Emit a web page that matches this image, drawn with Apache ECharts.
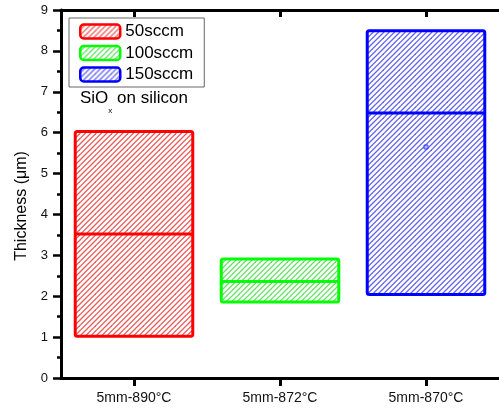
<!DOCTYPE html>
<html>
<head>
<meta charset="utf-8">
<script src="https://cdn.jsdelivr.net/npm/echarts@6/dist/echarts.min.js"></script>
<style>
  html, body { margin: 0; padding: 0; background: #fff; }
  #chart { width: 499px; height: 408px; }
</style>
</head>
<body>
<div id="chart"></div>
<script>
// Sample conditions along the x axis
const categories = ['5mm-890°C', '5mm-872°C', '5mm-870°C'];
// Flow-rate groups (one box per condition)
const seriesNames = ['50sccm', '100sccm', '150sccm'];
const seriesColors = ['#ff0000', '#00ff00', '#0000ff'];
// Thickness range per box (µm): bottom, median, top
const lowValues = [1.02, 1.86, 2.04];
const medianValues = [3.52, 2.36, 6.48];
const highValues = [6.03, 2.91, 8.49];
// Mean thickness marker of the 150sccm sample
const meanValue150 = 5.65;
// Y axis ticks
const yMin = 0, yMax = 9, yStep = 1;

const FONT = '"Liberation Sans", Arial, sans-serif';

// Diagonal hatch pattern ("/" lines) in a given colour
function hatch(color) {
  const size = 16, n = 3;
  const c = document.createElement('canvas');
  c.width = size; c.height = size;
  const g = c.getContext('2d');
  g.strokeStyle = color;
  g.lineWidth = 1.3;
  const step = size / n;
  for (let k = -1; k <= 2 * n + 1; k++) {
    const s = k * step;
    g.beginPath();
    g.moveTo(s + 1, -1);
    g.lineTo(-1, s + 1);
    g.stroke();
  }
  return { image: c, repeat: 'repeat' };
}
const hatchColors = ['rgba(230,50,50,0.8)', 'rgba(60,220,60,0.8)', 'rgba(60,60,230,0.8)'];
const patterns = hatchColors.map(hatch);

function makeRender(idx) {
  return function (params, api) {
    const x = api.value(0);
    const pLo = api.coord([x, api.value(1)]);
    const pMed = api.coord([x, api.value(2)]);
    const pHi = api.coord([x, api.value(3)]);
    const w = api.size([1, 0])[0] * 0.805;
    const left = pLo[0] - w / 2;
    return {
      type: 'group',
      children: [
        {
          type: 'rect',
          shape: { x: left, y: pHi[1], width: w, height: pLo[1] - pHi[1], r: 2 },
          style: { fill: patterns[idx], stroke: seriesColors[idx], lineWidth: 3 }
        },
        {
          type: 'line',
          shape: { x1: left, y1: pMed[1], x2: left + w, y2: pMed[1] },
          style: { stroke: seriesColors[idx], lineWidth: 3 }
        }
      ]
    };
  };
}

const boxSeries = seriesNames.map((name, i) => ({
  name: name,
  type: 'custom',
  renderItem: makeRender(i),
  itemStyle: { color: seriesColors[i] },
  encode: { x: 0, y: [1, 2, 3] },
  data: [[i, lowValues[i], medianValues[i], highValues[i]]],
  z: 2
}));

const chart = echarts.init(document.getElementById('chart'), null, { renderer: 'canvas' });
chart.setOption({
  animation: false,
  backgroundColor: '#fff',
  textStyle: { fontFamily: FONT },
  grid: { left: 61, right: -2, top: 10, bottom: 30, containLabel: false },
  legend: {
    orient: 'vertical',
    left: 69,
    top: 18,
    padding: [5, 11, 4, 10],
    itemWidth: 40,
    itemHeight: 14,
    itemGap: 4.5,
    borderColor: '#666',
    borderWidth: 1,
    icon: 'roundRect',
    textStyle: { fontSize: 17, color: '#000', fontFamily: FONT },
    data: seriesNames.map((name, i) => ({
      name: name,
      itemStyle: { color: patterns[i], borderColor: seriesColors[i], borderWidth: 2.5 }
    }))
  },
  xAxis: [
    {
      type: 'category',
      data: categories,
      position: 'bottom',
      axisLine: { lineStyle: { color: '#000', width: 3 } },
      axisTick: { show: true, alignWithLabel: true, inside: false, length: 8, lineStyle: { width: 3, color: '#000' } },
      axisLabel: { fontSize: 14, color: '#111', margin: 13, fontFamily: FONT },
      splitLine: { show: false }
    },
    {
      type: 'category',
      data: categories,
      position: 'top',
      axisLine: { lineStyle: { color: '#000', width: 3 } },
      axisTick: { show: true, alignWithLabel: true, inside: true, length: 7, lineStyle: { width: 3, color: '#000' } },
      axisLabel: { show: false },
      splitLine: { show: false }
    }
  ],
  yAxis: {
    type: 'value',
    min: yMin,
    max: yMax,
    interval: yStep,
    name: 'Thickness (\u03bcm)',
    nameLocation: 'middle',
    nameGap: 25,
    nameTextStyle: { fontSize: 16, color: '#000', fontFamily: FONT, padding: [0, 24, 0, 0] },
    axisLine: { show: true, lineStyle: { color: '#000', width: 3 } },
    axisTick: { show: true, inside: false, length: 8, lineStyle: { width: 2.5, color: '#000' } },
    minorTick: { show: true, splitNumber: 2, length: 4, lineStyle: { width: 2.5, color: '#000' } },
    axisLabel: { fontSize: 13, color: '#111', margin: 13, fontFamily: FONT },
    splitLine: { show: false }
  },
  series: boxSeries.concat([
    {
      name: 'mean',
      type: 'scatter',
      symbol: 'rect',
      symbolSize: 4,
      data: [[2, meanValue150]],
      itemStyle: { color: 'rgba(120,120,255,0.6)', borderColor: '#3030ff', borderWidth: 1 },
      z: 3
    }
  ]),
  graphic: [
    {
      type: 'text',
      left: 80,
      top: 90,
      style: {
        text: '{a|SiO}{b|x}{a| on silicon}',
        rich: {
          a: { fontSize: 17, fontFamily: FONT, fill: '#000', lineHeight: 25, verticalAlign: 'top' },
          b: { fontSize: 8, fontFamily: FONT, fill: '#000', lineHeight: 8, verticalAlign: 'bottom' }
        }
      }
    }
  ]
});
</script>
</body>
</html>
